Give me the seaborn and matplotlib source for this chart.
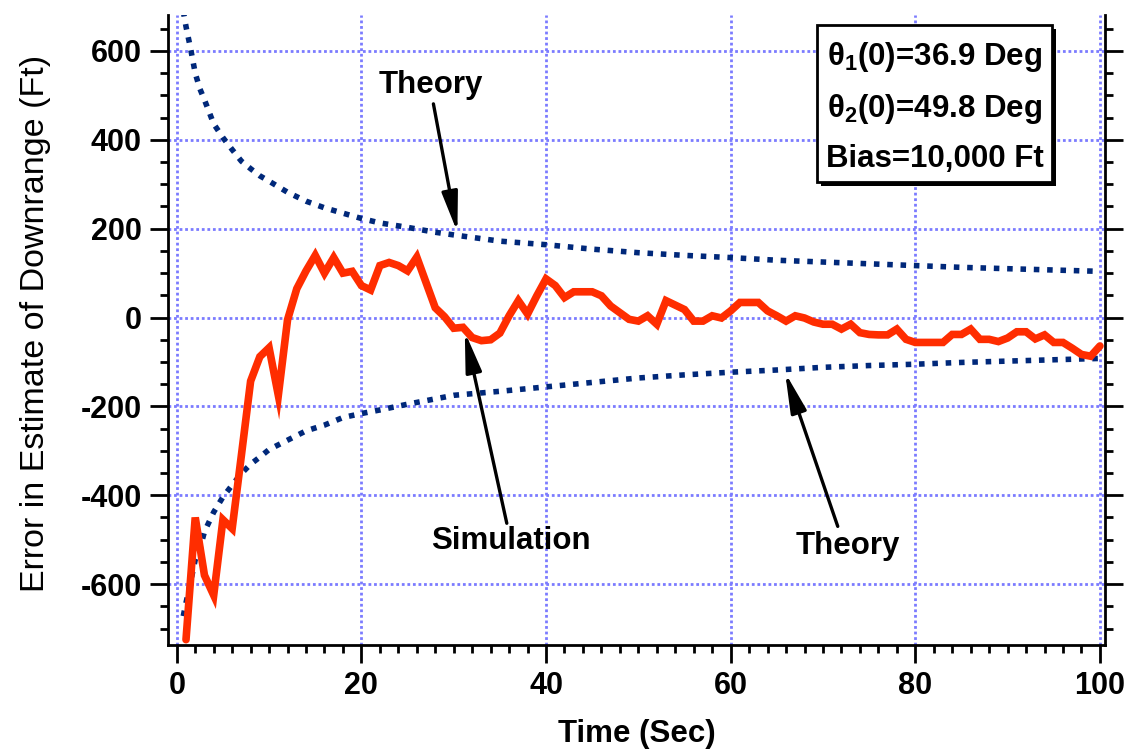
import numpy as np
import pandas as pd
import matplotlib
matplotlib.use("Agg")
import matplotlib.pyplot as plt
import seaborn as sns
from matplotlib.patches import Rectangle
from matplotlib.ticker import MultipleLocator

# ---------------- data ----------------
sim_time = list(range(1, 101))
sim_error = [-725, -450, -580, -625, -455, -475, -310, -143, -88, -68,
             -175, -5, 65, 105, 140, 100, 135, 100, 104, 72,
             62, 117, 124, 117, 105, 136, 79, 22, 2, -24,
             -22, -45, -52, -50, -35, 4, 38, 8, 49, 87,
             72, 45, 58, 58, 58, 49, 26, 11, -4, -8,
             4, -15, 38, 28, 18, -8, -8, 4, -1, 15,
             34, 34, 34, 15, 4, -8, 4, -1, -10, -15,
             -15, -26, -15, -34, -38, -39, -39, -26, -49, -56,
             -56, -56, -56, -38, -38, -26, -49, -49, -54, -46,
             -32, -32, -48, -39, -56, -56, -69, -83, -87, -64]

theory_time = [0.7, 1, 1.5, 2, 2.5, 3, 4, 5, 6, 7, 8, 9, 10, 12, 14, 16, 18, 20,
               22, 25, 28, 30, 35, 40, 45, 50, 55, 60, 65, 70, 75, 80, 85, 90, 95, 100]
theory_upper = [690, 655, 605, 550, 515, 490, 436, 405, 378, 352, 335, 319, 307,
                282, 262, 247, 235, 223, 213, 203, 192, 186, 172, 164, 154, 146,
                140, 135, 129, 125, 121, 117, 113, 110, 107, 104]
theory_lower = [-672, -642, -595, -545, -521, -482, -438, -404, -377, -351, -330,
                -314, -297, -276, -255, -242, -225, -216, -208, -195, -183, -175,
                -166, -156, -146, -136, -129, -123, -118, -112, -108, -105, -101,
                -98, -95, -92]

x_ticks = [0, 20, 40, 60, 80, 100]
y_ticks = [-600, -400, -200, 0, 200, 400, 600]

box_lines = [r"θ$_1$(0)=36.9 Deg", r"θ$_2$(0)=49.8 Deg", "Bias=10,000 Ft"]

# ---------------- style ----------------
sns.set_theme(style="white")
plt.rcParams["font.family"] = ["Liberation Sans", "DejaVu Sans"]
plt.rcParams["mathtext.fontset"] = "custom"
plt.rcParams["mathtext.rm"] = "Liberation Sans:bold"
plt.rcParams["mathtext.it"] = "Liberation Sans:bold"
plt.rcParams["mathtext.bf"] = "Liberation Sans:bold"
plt.rcParams["mathtext.default"] = "rm"
plt.rcParams["lines.scale_dashes"] = True
for k in ("text.color", "axes.labelcolor", "xtick.color", "ytick.color"):
    plt.rcParams[k] = "black"

W, H = 1131, 752
fig = plt.figure(figsize=(W / 100, H / 100), dpi=100)
fig.patch.set_facecolor("white")

def fx(px):
    return px / W

def fy(py):
    return 1 - py / H

ax_l, ax_r, ax_t, ax_b = 168, 1105, 15, 645
ax = fig.add_axes([fx(ax_l), fy(ax_b), fx(ax_r - ax_l), (ax_b - ax_t) / H])
ax.set_facecolor("white")

red = "#FF2D00"
navy = "#00287A"
gridc = "#7B7BFF"

df_sim = pd.DataFrame({"t": sim_time, "e": sim_error})
df_up = pd.DataFrame({"t": theory_time, "e": theory_upper})
df_lo = pd.DataFrame({"t": theory_time, "e": theory_lower})

for d in (df_up, df_lo):
    sns.lineplot(data=d, x="t", y="e", ax=ax, color=navy, errorbar=None, zorder=3)
    ln = ax.lines[-1]
    ln.set_linewidth(4.0)
    ln.set_linestyle((0, (1, 1.4)))
    ln.set_dash_capstyle("butt")
sns.lineplot(data=df_sim, x="t", y="e", ax=ax, color=red, errorbar=None, zorder=4)
ax.lines[-1].set_linewidth(5.5)
ax.lines[-1].set_solid_joinstyle("miter")

ax.set_xlim(-0.95, 100.55)
ax.set_ylim(-737, 681)
ax.set_xticks(x_ticks)
ax.set_yticks(y_ticks)
ax.set_xticklabels([str(v) for v in x_ticks])
ax.set_yticklabels([str(v) for v in y_ticks])
ax.xaxis.set_minor_locator(MultipleLocator(2))
ax.yaxis.set_minor_locator(MultipleLocator(50))

ax.grid(True, which="major", color=gridc, lw=2.0, linestyle=(0, (1, 1.0)))
ax.set_axisbelow(True)

for side in ("left", "right", "bottom"):
    ax.spines[side].set_visible(True)
    ax.spines[side].set_color("black")
    ax.spines[side].set_linewidth(2.0)
ax.spines["top"].set_visible(False)

ax.tick_params(axis="both", which="major", direction="out", length=13,
               width=2.0, color="black", labelcolor="black", labelsize=22, pad=6)
ax.tick_params(axis="both", which="minor", direction="out", length=6,
               width=2.0, color="black")
ax.tick_params(axis="y", which="both", left=True, right=True, labelright=False)
ax.tick_params(axis="x", which="both", bottom=True, top=False)
for lab in ax.get_xticklabels() + ax.get_yticklabels():
    lab.set_fontweight("bold")

ax.set_xlabel("Time (Sec)", fontsize=22.5, fontweight="bold", color="black")
ax.xaxis.set_label_coords(0.5, -0.118)
ax.xaxis.label.set_va("top")
ax.set_ylabel("Error in Estimate of Downrange (Ft)", fontsize=24.5, color="black")
ax.yaxis.set_label_coords(-0.125, 0.51)

# annotations
arrow = dict(arrowstyle="-|>,head_length=1.1,head_width=0.22", lw=2.4,
             color="black", shrinkA=0, shrinkB=0, mutation_scale=22)
ax.text(27.5, 524, "Theory", ha="center", va="center", fontsize=22.5,
        fontweight="bold", color="black", zorder=6)
ax.annotate("", xy=(30.4, 192), xytext=(27.8, 481), arrowprops=arrow, zorder=6)
ax.text(36.2, -504, "Simulation", ha="center", va="center", fontsize=22.5,
        fontweight="bold", color="black", zorder=6)
ax.annotate("", xy=(31.2, -32), xytext=(35.75, -463), arrowprops=arrow, zorder=6)
ax.text(72.7, -515, "Theory", ha="center", va="center", fontsize=22.5,
        fontweight="bold", color="black", zorder=6)
ax.annotate("", xy=(65.9, -124), xytext=(71.6, -470), arrowprops=arrow, zorder=6)

# parameter box with shadow
bx0, bx1, by0, by1 = 817, 1052, 25, 182
shadow = Rectangle((fx(bx0 + 4), fy(by1 + 4)), fx(bx1 - bx0), (by1 - by0) / H,
                   transform=fig.transFigure, facecolor="black",
                   edgecolor="black", lw=0, zorder=7)
box = Rectangle((fx(bx0), fy(by1)), fx(bx1 - bx0), (by1 - by0) / H,
                transform=fig.transFigure, facecolor="white",
                edgecolor="black", lw=2.0, zorder=8)
fig.patches.extend([shadow, box])
baselines = [65, 117, 167]
for txt, b in zip(box_lines, baselines):
    fig.text(fx((bx0 + bx1) / 2), fy(b), txt, ha="center", va="baseline",
             fontsize=22.5, fontweight="bold", color="black", zorder=9)

fig.savefig("out.png", dpi=100, facecolor="white")
